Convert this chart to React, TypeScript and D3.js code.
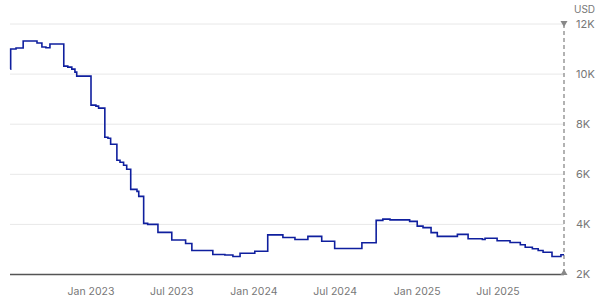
import React from "react";
import * as d3 from "d3";

const dates: string[] = [
  "2022-07-04", "2022-07-05", "2022-07-17", "2022-08-02", "2022-09-02", "2022-09-13",
  "2022-09-22", "2022-10-01", "2022-11-01", "2022-11-10", "2022-11-19", "2022-11-26",
  "2022-11-30", "2023-01-01", "2023-01-12", "2023-01-18", "2023-02-01", "2023-02-08",
  "2023-02-14", "2023-02-28", "2023-03-07", "2023-03-15", "2023-03-22", "2023-03-31",
  "2023-04-14", "2023-04-18", "2023-04-29", "2023-05-08", "2023-05-31", "2023-07-01",
  "2023-08-01", "2023-08-15", "2023-10-01", "2023-10-28", "2023-11-15", "2023-12-01",
  "2024-01-03", "2024-02-01", "2024-03-06", "2024-04-02", "2024-05-01", "2024-06-01",
  "2024-06-30", "2024-08-30", "2024-10-01", "2024-10-16", "2024-11-01", "2024-12-15",
  "2025-01-01", "2025-01-14", "2025-02-01", "2025-02-15", "2025-04-01", "2025-04-25",
  "2025-05-27", "2025-06-02", "2025-06-29", "2025-07-28", "2025-08-20", "2025-08-31",
  "2025-09-16", "2025-09-29", "2025-10-10", "2025-10-30", "2025-11-19", "2025-11-26",
];

const prices: number[] = [
  10200, 11000, 11040, 11320, 11240, 11080,
  11050, 11200, 10320, 10280, 10200, 10080,
  9920, 8760, 8720, 8640, 7480, 7440,
  7200, 6560, 6480, 6360, 6200, 5400,
  5320, 5120, 4040, 4000, 3680, 3380,
  3240, 2960, 2800, 2780, 2720, 2850,
  2930, 3580, 3480, 3400, 3520, 3330,
  3040, 3270, 4160, 4210, 4180, 4120,
  3930, 3870, 3670, 3520, 3600, 3430,
  3400, 3450, 3350, 3280, 3190, 3090,
  3030, 2960, 2890, 2720, 2790, 2790,
];

const xTickDates: string[] = ["2023-01-01", "2023-07-01", "2024-01-01", "2024-07-01", "2025-01-01", "2025-07-01"];
const xTickLabels: string[] = ["Jan 2023", "Jul 2023", "Jan 2024", "Jul 2024", "Jan 2025", "Jul 2025"];
const yTicks: number[] = [2000, 4000, 6000, 8000, 10000, 12000];
const yTickLabels: string[] = ["2K", "4K", "6K", "8K", "10K", "12K"];
const unitLabel = "USD";

const W = 600;
const H = 300;
const FONT = "Inter, 'Noto Sans', sans-serif";

export default function App() {
  const parse = d3.utcParse("%Y-%m-%d");
  const data = dates.map((d, i) => ({ date: parse(d) as Date, value: prices[i] }));

  const x = d3
    .scaleUtc()
    .domain([parse("2023-01-01") as Date, parse("2025-07-01") as Date])
    .range([91, 498]);
  const left = 10;
  const right = 564;

  const y = d3.scaleLinear().domain([2000, 12000]).range([274.5, 24]);

  const line = d3
    .line<{ date: Date; value: number }>()
    .x((d) => x(d.date))
    .y((d) => y(d.value))
    .curve(d3.curveStepAfter);

  const topY = y(12000);
  const botY = y(2000);

  return (
    <svg
      width={W}
      height={H}
      style={{ position: "absolute", left: 0, top: 0, background: "#fff" }}
      fontFamily={FONT}
    >
      {yTicks.slice(1).map((t) => (
        <line key={t} x1={left} x2={right} y1={y(t)} y2={y(t)} stroke="#e8e8e8" strokeWidth={1} />
      ))}
      <line x1={left} x2={right} y1={botY} y2={botY} stroke="#555" strokeWidth={1.5} />
      <line
        x1={right}
        x2={right}
        y1={topY}
        y2={botY}
        stroke="#999"
        strokeWidth={1.5}
        strokeDasharray="4,3"
      />
      <path
        d={`M${right - 3.5},${topY - 3} L${right + 3.5},${topY - 3} L${right},${topY + 3} Z`}
        fill="#888"
      />
      <path
        d={`M${right - 3.5},${botY + 0.5} L${right + 3.5},${botY + 0.5} L${right},${botY - 5.5} Z`}
        fill="#888"
      />
      <path d={line(data) || ""} fill="none" stroke="#0f1f9e" strokeWidth={1.6} />
      {yTicks.map((t, i) => (
        <text key={t} x={576} y={y(t)} dy="0.35em" fontSize={11} fill="#777">
          {yTickLabels[i]}
        </text>
      ))}
      <text x={574} y={9} dy="0.35em" fontSize={10} fill="#777">
        {unitLabel}
      </text>
      {xTickDates.map((d, i) => (
        <text
          key={d}
          x={x(parse(d) as Date)}
          y={295}
          textAnchor="middle"
          fontSize={10.5}
          fill="#777"
        >
          {xTickLabels[i]}
        </text>
      ))}
    </svg>
  );
}
